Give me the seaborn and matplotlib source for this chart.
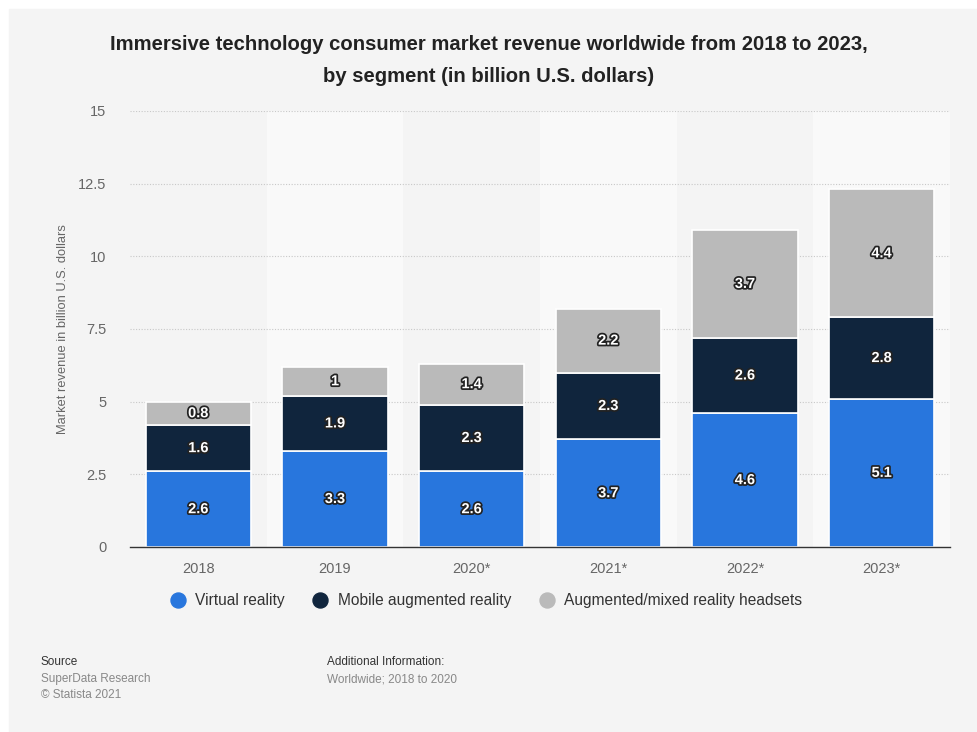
import matplotlib
matplotlib.use("Agg")
import matplotlib.pyplot as plt
import matplotlib.patheffects as pe
from matplotlib.lines import Line2D
import seaborn as sns
import numpy as np
import pandas as pd

years = ["2018", "2019", "2020*", "2021*", "2022*", "2023*"]
virtual_reality = [2.6, 3.3, 2.6, 3.7, 4.6, 5.1]
mobile_ar = [1.6, 1.9, 2.3, 2.3, 2.6, 2.8]
ar_mr_headsets = [0.8, 1.0, 1.4, 2.2, 3.7, 4.4]
segment_names = ["Virtual reality", "Mobile augmented reality",
                 "Augmented/mixed reality headsets"]
segment_colors = ["#2876dd", "#10253d", "#bababa"]
y_ticks = [0, 2.5, 5, 7.5, 10, 12.5, 15]
y_tick_labels = ["0", "2.5", "5", "7.5", "10", "12.5", "15"]

sns.set_theme(style="white")
plt.rcParams["font.family"] = ["Liberation Sans", "DejaVu Sans"]

BG = "#f4f4f4"
fig = plt.figure(figsize=(9.78, 7.32), dpi=100, facecolor="white")
# light grey card behind everything
fig.patches.append(plt.Rectangle((9 / 978, 0), 1, 1 - 9 / 732,
                                 transform=fig.transFigure, color=BG, zorder=-10))

ax = fig.add_axes([130 / 978, 1 - 547 / 732, 820 / 978, 436 / 732])
ax.set_facecolor(BG)

# alternating column shading
for i in range(1, len(years), 2):
    ax.axvspan(i - 0.5, i + 0.5, color="#f9f9f9", zorder=0, lw=0)

for y in y_ticks[1:]:
    ax.axhline(y, color="#c8c8c8", lw=0.8, ls=(0, (1, 1.5)), zorder=1)

df = pd.DataFrame({"year": years, "vr": virtual_reality,
                   "mar": mobile_ar, "hs": ar_mr_headsets})
bottoms = np.zeros(len(years))
for col, color in zip(["vr", "mar", "hs"], segment_colors):
    sns.barplot(data=df, x="year", y=col, color=color, ax=ax, width=0.77,
                bottom=bottoms.copy(), edgecolor="white", linewidth=1.2,
                saturation=1, zorder=3)
    vals = df[col].to_numpy()
    for i, v in enumerate(vals):
        ax.text(i, bottoms[i] + v / 2, f"{v:g}", ha="center", va="center",
                color="white", fontsize=10.5, fontweight="bold", zorder=5,
                path_effects=[pe.withStroke(linewidth=2.5, foreground="#222222")])
    bottoms = bottoms + vals

ax.set_xlim(-0.5, len(years) - 0.5)
ax.set_ylim(0, 15)
ax.set_yticks(y_ticks)
ax.set_yticklabels(y_tick_labels)
ax.set_xlabel("")
ax.set_ylabel("")
ax.tick_params(axis="y", length=0, pad=17, labelsize=10.5, labelcolor="#666666")
ax.tick_params(axis="x", length=0, pad=11, labelsize=10.5, labelcolor="#666666")
for s in ["top", "right", "left"]:
    ax.spines[s].set_visible(False)
ax.spines["bottom"].set_color("#333333")
ax.spines["bottom"].set_linewidth(1.0)
ax.spines["bottom"].set_zorder(6)

fig.text(63 / 978, 1 - 329 / 732, "Market revenue in billion U.S. dollars",
         rotation=90, ha="center", va="center", fontsize=9.3, color="#666666")

title_font = ["Liberation Sans Narrow", "Liberation Sans", "DejaVu Sans"]
fig.text(0.5, 1 - 45 / 732,
         "Immersive technology consumer market revenue worldwide from 2018 to 2023,",
         ha="center", va="center", fontsize=14.6, fontweight="bold", color="#222222",
         family=title_font)
fig.text(0.5, 1 - 76 / 732, "by segment (in billion U.S. dollars)",
         ha="center", va="center", fontsize=14.6, fontweight="bold", color="#222222",
         family=title_font)

handles = [Line2D([0], [0], marker="o", ls="", markersize=10.8,
                  markerfacecolor=c, markeredgecolor=c) for c in segment_colors]
leg = fig.legend(handles, segment_names, loc="center", ncol=3,
                 bbox_to_anchor=(486 / 978, 1 - 601 / 732), frameon=False,
                 fontsize=11.2, handlelength=1.0, handletextpad=0.6,
                 columnspacing=1.8)
for t in leg.get_texts():
    t.set_color("#333333")

fig.text(41 / 978, 1 - 662 / 732, "Source", fontsize=8.5, color="#333333", va="center")
fig.text(41 / 978, 1 - 679 / 732, "SuperData Research", fontsize=8.5,
         color="#888888", va="center")
fig.text(41 / 978, 1 - 695 / 732, "\u00a9 Statista 2021", fontsize=8.5,
         color="#888888", va="center")
fig.text(327 / 978, 1 - 662 / 732, "Additional Information:", fontsize=8.5,
         color="#333333", va="center")
fig.text(327 / 978, 1 - 679 / 732, "Worldwide; 2018 to 2020", fontsize=8.5,
         color="#888888", va="center")

fig.savefig("out.png", dpi=100, facecolor="white")
